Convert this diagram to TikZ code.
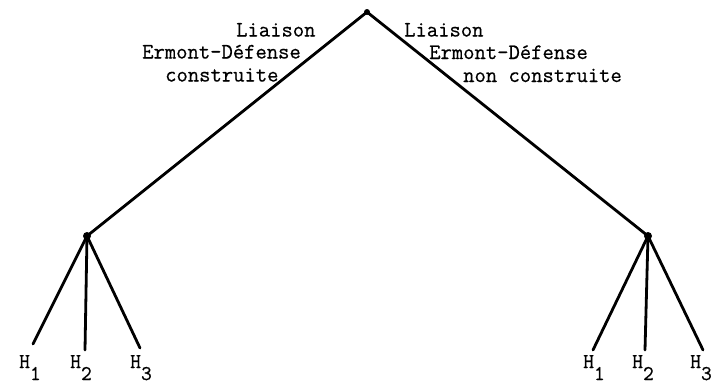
\documentclass[tikz,border=0pt]{standalone}
\usepackage{fontspec}
\setmonofont{Latin Modern Mono}[FakeBold=0.6]
\begin{document}
\begin{tikzpicture}[x=1pt,y=-1pt,
  edge/.style={line width=2.8pt,line cap=round},
  dot/.style={circle,fill=black,inner sep=0pt,minimum size=#1},
  lbl/.style={anchor=base west,inner sep=0pt,font=\ttfamily\bfseries\fontsize{22}{24}\selectfont},
  hlbl/.style={anchor=base west,inner sep=0pt,font=\ttfamily\bfseries\fontsize{21}{24}\selectfont}]
\useasboundingbox (0,0) rectangle (711,386);
% tree nodes
\node[dot=6pt] (r) at (367,12) {};
\node[dot=8pt] (a) at (87,236) {};
\node[dot=8pt] (b) at (648,236) {};
\coordinate (a1) at (33,344);
\coordinate (a2) at (85,350);
\coordinate (a3) at (140,348);
\coordinate (b1) at (593,350);
\coordinate (b2) at (645,350);
\coordinate (b3) at (703,350);
% connectors
\draw[edge] (r.center) -- (a.center);
\draw[edge] (r.center) -- (b.center);
\foreach \t in {a1,a2,a3} \draw[edge] (a.center) -- (\t);
\foreach \t in {b1,b2,b3} \draw[edge] (b.center) -- (\t);
% edge labels
\node[lbl] (l1) at (236,36.5) {Liaison};
\node[lbl] (l2) at (142,58.5) {Ermont-Défense};
\node[lbl] (l3) at (165,81.5) {construite};
\node[lbl] (m1) at (404,36.5) {Liaison};
\node[lbl] (m2) at (429,59) {Ermont-Défense};
\node[lbl] (m3) at (463,82) {non construite};
% leaf labels
\node[hlbl] (ha1) at (19,368) {H\raisebox{-12pt}{1}};
\node[hlbl] (ha2) at (70,368) {H\raisebox{-12pt}{2}};
\node[hlbl] (ha3) at (130,368) {H\raisebox{-12pt}{3}};
\node[hlbl] (hb1) at (583,368) {H\raisebox{-12pt}{1}};
\node[hlbl] (hb2) at (632,368) {H\raisebox{-12pt}{2}};
\node[hlbl] (hb3) at (690,368) {H\raisebox{-12pt}{3}};
\end{tikzpicture}
\end{document}
